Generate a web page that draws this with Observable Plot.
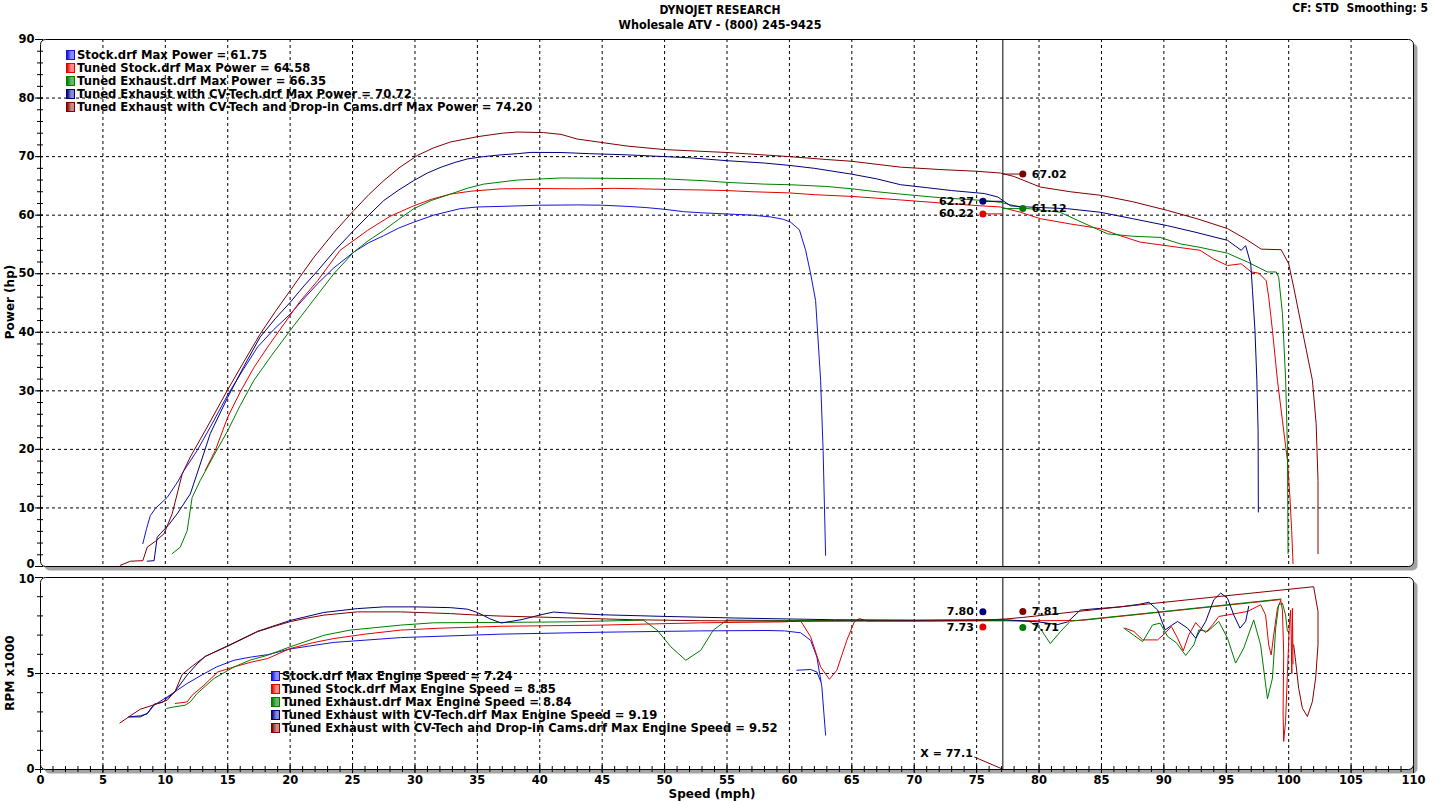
<!DOCTYPE html>
<html><head><meta charset="utf-8">
<script src="https://cdn.jsdelivr.net/npm/d3@7"></script>
<script src="https://cdn.jsdelivr.net/npm/@observablehq/plot@0.6"></script>
<style>
body{margin:0;background:#fff;}
#wrap{position:relative;width:1438px;height:801px;overflow:hidden;font-family:"DejaVu Sans",Verdana,sans-serif;color:#000;}
.hdr{position:absolute;font-family:"DejaVu Sans",sans-serif;font-stretch:condensed;font-weight:bold;font-size:12px;white-space:nowrap;line-height:14px;}
.axl{position:absolute;font-weight:bold;font-size:12px;white-space:nowrap;transform:translate(-50%,-50%);}
.axl.rot{transform:translate(-50%,-50%) rotate(-90deg);}
.lg{position:absolute;display:flex;align-items:center;height:13px;font-weight:bold;font-size:11.6px;white-space:nowrap;}
.sw{display:inline-block;width:9px;height:10px;box-sizing:border-box;border:1px solid;margin-right:2px;}
svg{position:absolute;left:0;}
</style></head>
<body><div id="wrap"></div>
<script>
// ---------------- data ----------------
const seriesNames = ["Stock.drf","Tuned Stock.drf","Tuned Exhaust.drf","Tuned Exhaust with CV-Tech.drf","Tuned Exhaust with CV-Tech and Drop-in Cams.drf"];
const seriesColors = ["#1414d8","#e60000","#007d00","#00007c","#800000"];
const swatchLight = ["#8c8cff","#ff8c8c","#66b866","#8c8cc8","#c88c8c"];
const maxPower = ["61.75","64.58","66.35","70.72","74.20"];
const maxEngineSpeed = ["7.24","8.85","8.84","9.19","9.52"];

const speedTicks = [0,5,10,15,20,25,30,35,40,45,50,55,60,65,70,75,80,85,90,95,100,105,110];
const speedGrid = [5,10,15,20,25,30,35,40,45,50,55,60,65,70,75,80,85,90,95,100,105];
const powerTicks = [0,10,20,30,40,50,60,70,80,90];
const powerGrid = [10,20,30,40,50,60,70,80];
const rpmTicks = [0,5,10];
const rpmGrid = [5];
const cursorSpeed = 77.1;

// power (hp) vs speed (mph)
const stockPower = [[8.2,3.9],[8.5,6.5],[8.8,8.7],[9.2,9.9],[10.15,11.8],[11.0,14.5],[11.5,16.4],[12.55,19.8],[13.6,23.8],[15.0,29.3],[16.2,33.5],[17.4,37.5],[18.7,40.5],[20.0,43.1],[21.0,45.5],[22.2,48.3],[23.5,51.0],[25.1,53.7],[26.3,55.3],[27.5,56.5],[28.7,57.8],[29.9,58.8],[31.5,60.0],[33.6,61.1],[35.0,61.4],[36.9,61.5],[40,61.7],[43,61.75],[45,61.7],[47,61.5],[48.5,61.3],[50,61.0],[51.5,60.6],[53,60.4],[55,60.2],[57,60.0],[58.5,59.7],[59.5,59.3],[60.1,58.8],[60.8,57.5],[61.3,54.0],[61.7,50],[62.1,45.4],[62.5,31.8],[62.7,19.8],[62.9,1.9]];
const tunedStockPower = [[13.2,16.4],[14.0,19.8],[15.0,25.5],[16.0,29.8],[17.1,34.0],[18.3,37.8],[19.5,41.4],[20.8,45.3],[22.2,48.8],[24.0,54.0],[26.2,57.4],[28.0,59.8],[29.9,61.6],[31.3,62.7],[32.85,63.6],[34.5,64.1],[36.9,64.5],[40,64.55],[43,64.5],[46,64.58],[48,64.5],[50,64.4],[53,64.3],[55,64.2],[57,64.0],[60,63.8],[62,63.5],[65,63.2],[67,62.9],[68.9,62.6],[72,62.1],[75.3,61.6],[76.9,61.4],[78.5,60.5],[80.1,59.4],[82.5,58.5],[84.9,57.7],[86.5,56.5],[88.1,55.4],[90.5,54.7],[92.9,54.0],[94.0,52.5],[95.1,51.4],[96.2,51.7],[97.0,50.3],[97.6,50.1],[98.2,48.8],[98.4,46.0],[98.7,40.3],[99.1,31.8],[99.5,24.9],[99.9,18.1],[100.1,11.8],[100.24,6.1],[100.35,0.5]];
const tunedExhaustPower = [[10.55,2.2],[11.2,3.3],[11.75,6.1],[12.15,11.8],[12.8,14.7],[13.9,19.0],[15.0,23.2],[16.0,27.5],[17.1,31.8],[18.5,36.0],[20.0,40.3],[21.8,45.3],[23.5,50.0],[25.1,53.7],[26.3,55.7],[27.5,57.4],[28.7,59.3],[29.9,61.1],[31.3,62.5],[32.85,63.6],[34.2,64.6],[35.5,65.3],[38.2,66.0],[41.7,66.35],[45,66.3],[50,66.2],[53,65.9],[55,65.6],[58,65.3],[60,65.2],[63,64.9],[65,64.5],[67,64.0],[68.9,63.6],[72,63.0],[75.6,62.5],[76.9,62.2],[78.8,61.2],[81.7,60.5],[83.1,59.1],[85.5,56.8],[87.5,56.4],[89.7,56.2],[91.3,55.1],[92.9,54.5],[95.1,53.5],[96.7,52.0],[98.3,50.3],[99.0,50.3],[99.2,49.4],[99.5,43.2],[99.76,31.8],[99.9,20.4],[99.95,2.2]];
const cvTechPower = [[8.55,0.9],[9.1,1.0],[9.35,5.0],[9.6,5.6],[10.3,7.2],[10.95,9.0],[12.0,12.4],[12.8,17.5],[13.6,22.7],[15.0,28.9],[16.3,34.2],[17.6,39.2],[18.8,42.3],[20.0,45.1],[21.1,47.9],[22.2,50.5],[23.6,54.0],[25.1,57.4],[26.3,60.0],[27.5,62.5],[28.7,64.3],[29.9,65.9],[31.0,67.2],[32.1,68.2],[33.2,69.0],[34.2,69.6],[35.5,70.0],[36.9,70.3],[38.2,70.5],[39.3,70.72],[41.7,70.7],[44,70.5],[47,70.3],[50,70.0],[52,69.8],[55,69.3],[58,68.9],[60,68.5],[62,68.0],[63.5,67.5],[65,67.0],[67,66.2],[68.9,65.2],[71,64.7],[73,64.2],[75.6,63.7],[76.7,63.1],[77.7,61.6],[79.1,61.4],[82.3,61.1],[84.9,60.5],[87.5,59.4],[90.3,58.2],[92.5,57.1],[95.1,55.7],[96.2,54.0],[96.55,54.8],[96.96,51.7],[97.1,47.1],[97.3,40.3],[97.45,31.8],[97.55,23.2],[97.57,9.3]];
const camsPower = [[6.4,0.2],[7.2,0.9],[8.2,1.0],[8.55,3.3],[9.2,4.3],[9.9,5.6],[10.55,9.0],[11.35,15.8],[12.0,18.7],[13.35,23.8],[14.96,30.05],[16.3,35.0],[17.6,39.7],[18.8,43.5],[20.0,47.1],[21.9,52.8],[23.5,57.0],[25.1,60.8],[26.3,63.5],[27.5,65.9],[28.8,68.2],[30.2,70.2],[31.5,71.5],[32.85,72.5],[35.0,73.4],[37,74.0],[38.2,74.2],[40.3,74.1],[41.7,73.8],[43,73.0],[45,72.4],[47,71.8],[50,71.2],[55,70.7],[60,70.0],[63,69.5],[65,69.2],[68.9,68.2],[72,67.8],[75,67.5],[76.9,67.2],[78.0,66.6],[80.1,64.8],[82.5,64.0],[84.9,63.4],[87.5,62.3],[90.3,60.8],[92.8,59.3],[95.1,57.7],[96.5,56.0],[97.8,54.2],[99.4,54.1],[100.0,51.7],[100.4,47.7],[101.2,39.2],[101.9,31.8],[102.2,24.4],[102.35,14.7],[102.35,2.2]];

// engine speed (RPM x1000) vs speed (mph); NaN rows break a line
const stockRpm = [[7.08,2.74],[8.0,2.8],[8.55,2.9],[9.1,3.35],[10.15,3.78],[11.0,4.15],[11.75,4.48],[13.0,4.95],[14.1,5.34],[15.5,5.69],[16.8,5.85],[18.2,5.98],[20.0,6.28],[23.5,6.62],[28.85,6.87],[36.9,7.05],[44.9,7.15],[52.9,7.22],[58.2,7.24],[59.6,7.22],[60.9,7.12],[61.7,6.73],[62.2,5.86],[62.6,4.30],[62.9,1.79],[NaN,NaN],[60.6,5.17],[61.7,5.21],[62.2,5.08],[62.5,4.6]];
const tunedStockRpm = [[10.8,3.44],[11.75,3.52],[12.15,3.87],[13.1,4.39],[14.2,5.08],[15.5,5.34],[16.8,5.58],[18.2,5.78],[20.0,6.30],[21.8,6.6],[23.5,6.82],[26,7.05],[28.85,7.26],[32,7.36],[36.9,7.46],[44.9,7.52],[52.9,7.64],[59.6,7.69],[60.9,7.74],[61.7,6.91],[62.5,5.34],[63.2,4.70],[63.8,5.17],[64.6,6.73],[65.2,7.69],[65.6,7.86],[66.2,7.74],[70,7.73],[75.5,7.74],[80,7.75],[83.3,7.76],[91.3,8.3],[99.35,8.85],[99.5,8.3],[99.6,6.0],[99.55,3.0],[99.6,1.46],[99.75,2.5],[99.9,5.0],[100.05,7.5],[100.15,8.3],[100.2,7.0],[100.25,5.0],[100.3,8.4],[100.35,5.5],[NaN,NaN],[86.9,7.36],[87.6,7.19],[88.3,6.75],[89.5,6.75],[90.1,7.10],[90.6,7.45],[91.1,6.84],[91.55,6.18],[92.0,7.01],[92.55,7.65],[92.95,7.36],[93.35,7.13],[93.9,7.53],[94.4,7.97],[96.7,8.23],[97.75,8.58],[98.15,8.05],[98.4,6.49],[98.6,5.97],[98.8,7.01],[99.1,8.40],[99.35,8.78]];
const tunedExhaustRpm = [[10.1,3.18],[10.7,3.26],[11.6,3.35],[12.0,3.52],[12.55,3.96],[13.9,4.74],[15.5,5.34],[16.8,5.7],[18.2,5.95],[20.0,6.39],[22.7,6.99],[24.8,7.26],[28.85,7.52],[31.5,7.64],[36.9,7.66],[42.2,7.69],[48.3,7.78],[49.4,7.26],[50.5,6.39],[51.7,5.69],[52.9,6.21],[53.9,7.26],[55.0,7.78],[60,7.76],[70,7.76],[75.5,7.76],[77.5,7.76],[79.2,7.72],[80.1,7.34],[80.9,6.56],[81.7,7.17],[82.5,7.72],[83.3,7.78],[91.3,8.32],[99.4,8.88],[NaN,NaN],[86.8,7.36],[88.3,6.66],[89.1,7.53],[89.7,7.62],[90.3,6.93],[91.0,6.6],[91.75,5.94],[92.4,6.49],[92.8,7.27],[93.5,7.19],[94.4,7.71],[95.1,6.84],[95.75,5.54],[96.4,6.32],[97.2,7.79],[97.75,6.49],[98.3,3.68],[98.7,4.76],[98.96,7.36],[99.2,8.58],[99.5,8.66],[99.75,8.05],[99.9,7.2]];
const cvTechRpm = [[7.08,2.74],[8.0,2.74],[8.55,2.92],[9.1,3.4],[9.8,3.5],[10.15,3.72],[10.7,4.0],[11.75,4.92],[12.55,5.5],[13.2,5.89],[14.96,6.43],[17.4,7.2],[20.0,7.76],[22.7,8.18],[25.4,8.38],[27.5,8.47],[30,8.47],[32.85,8.43],[34.2,8.35],[35.0,8.18],[36.0,7.85],[36.9,7.63],[38.5,7.80],[40.1,8.06],[41.1,8.20],[42.2,8.15],[44.9,8.06],[50.2,7.97],[55.6,7.89],[63.6,7.80],[70,7.78],[75.5,7.80],[77.3,7.80],[79.9,7.69],[81.5,7.55],[82.3,7.69],[83.3,8.30],[84.1,8.35],[86.5,8.47],[88.0,8.6],[88.8,8.71],[89.5,8.31],[90.1,7.27],[90.6,7.5],[91.1,7.71],[91.9,7.36],[92.55,6.84],[93.35,7.71],[94.0,8.84],[94.55,9.19],[95.1,8.92],[95.6,8.05],[96.1,7.36],[96.55,7.71],[96.8,8.5]];
const camsRpm = [[6.36,2.42],[7.2,2.8],[8.0,3.14],[9.1,3.37],[10.15,3.61],[10.8,4.09],[11.35,4.95],[12.15,5.38],[13.2,5.89],[14.96,6.41],[16.2,6.8],[17.4,7.18],[18.7,7.45],[20.0,7.70],[21.3,7.88],[22.7,8.04],[25.4,8.21],[28.85,8.21],[32.85,8.12],[35.0,8.04],[36.9,7.99],[42.2,7.90],[47.5,7.80],[52.9,7.75],[60.9,7.72],[70,7.74],[75,7.76],[77.3,7.84],[78.7,7.92],[86.5,8.47],[95,9.05],[102.0,9.52],[102.35,8.23],[102.35,6.49],[102.16,4.76],[101.9,3.54],[101.5,2.76],[101.1,3.19],[100.8,4.23],[100.56,5.62],[100.4,6.49]];

const powerSeries = [stockPower, tunedStockPower, tunedExhaustPower, cvTechPower, camsPower];
const rpmSeries = [stockRpm, tunedStockRpm, tunedExhaustRpm, cvTechRpm, camsRpm];

// cursor read-outs
const markerSeries = [3, 1, 4, 2];
const markerSpeed = [75.5, 75.5, 78.7, 78.7];
const markerPower = ["62.37","60.22","67.02","61.12"];
const markerRpm = ["7.80","7.73","7.81","7.71"];

// ---------------- build ----------------
const wrap = document.getElementById("wrap");
const W = 1438;
const font = "'DejaVu Sans', Verdana, sans-serif";
const svgStyle = {fontFamily: font, fontSize: "11.5px", fontWeight: "bold", color: "black", background: "transparent", overflow: "visible"};
const dash = {stroke: "black", strokeDasharray: "3,3", strokeWidth: 1};
const speedMinor = d3.range(0, 111, 1);
const markers = markerSeries.map((s, i) => ({s, speed: markerSpeed[i], power: +markerPower[i], pLabel: markerPower[i], rpm: +markerRpm[i], rLabel: markerRpm[i], left: markerSpeed[i] < cursorSpeed}));
// in the RPM panel the read-out pair at each speed is spread apart vertically
markers.forEach(m => { const mate = markers.find(o => o !== m && o.speed === m.speed); m.upper = m.rpm >= mate.rpm; });

function seriesLines(list) {
  return list.map((data, i) => Plot.line(data, {x: d => d[0], y: d => d[1], stroke: seriesColors[i], strokeWidth: 1}));
}
function frameMarks() {
  return [
    Plot.frame({fill: "#a3a3a3", stroke: "none", dx: 4, dy: 4, rx: 5}),
    Plot.frame({fill: "white", stroke: "none", rx: 5})
  ];
}
const noText = () => "";

const topPlot = Plot.plot({
  width: W, height: 572, marginTop: 39, marginBottom: 6, marginLeft: 40, marginRight: 25,
  style: svgStyle,
  x: {domain: [0, 110], axis: null},
  y: {domain: [0, 90], axis: null},
  marks: [
    ...frameMarks(),
    Plot.ruleX(speedGrid, dash),
    Plot.ruleY(powerGrid, dash),
    Plot.ruleX([cursorSpeed], {stroke: "black", strokeWidth: 1}),
    ...seriesLines(powerSeries),
    Plot.link(markers, {x1: () => cursorSpeed, x2: "speed", y1: "power", y2: "power", stroke: d => seriesColors[d.s], strokeWidth: 1}),
    Plot.dot(markers, {x: "speed", y: "power", r: 3.5, fill: d => seriesColors[d.s], stroke: "none"}),
    Plot.text(markers.filter(d => d.left), {x: "speed", y: "power", text: "pLabel", dx: -9, textAnchor: "end", fontSize: 11}),
    Plot.text(markers.filter(d => !d.left), {x: "speed", y: "power", text: "pLabel", dx: 9, textAnchor: "start", fontSize: 11}),
    Plot.frame({stroke: "black", strokeWidth: 1, rx: 5}),
    Plot.axisY({ticks: d3.range(0, 91, 2), tickSize: 6, dx: 3, tickFormat: noText, label: null}),
    Plot.axisY({ticks: powerTicks, tickSize: 8, dx: 3, tickFormat: noText, label: null}),
    Plot.axisY({ticks: powerTicks.filter(t => t > 0), tickSize: 0, tickPadding: 6, label: null}),
    Plot.axisY({ticks: powerTicks.filter(t => t === 0), tickSize: 0, tickPadding: 6, dy: -2, label: null})
  ]
});
topPlot.style.top = "0px";
wrap.appendChild(topPlot);

function leader(cx) {
  return (index, scales) => {
    const g = document.createElementNS("http://www.w3.org/2000/svg", "line");
    const x = scales.x(cx), y = scales.y(0);
    g.setAttribute("x1", x - 28); g.setAttribute("y1", y - 12);
    g.setAttribute("x2", x); g.setAttribute("y2", y);
    g.setAttribute("stroke", "#800000"); g.setAttribute("stroke-width", 1);
    return g;
  };
}

const botPlot = Plot.plot({
  width: W, height: 229, marginTop: 5, marginBottom: 32, marginLeft: 40, marginRight: 25,
  style: svgStyle,
  x: {domain: [0, 110], axis: null},
  y: {domain: [0, 10], axis: null},
  marks: [
    ...frameMarks(),
    Plot.ruleX(speedGrid, dash),
    Plot.ruleY(rpmGrid, dash),
    Plot.ruleX([cursorSpeed], {stroke: "black", strokeWidth: 1}),
    ...seriesLines(rpmSeries),
    Plot.dot(markers.filter(d => d.upper), {x: "speed", y: "rpm", dy: -8, r: 3.5, fill: d => seriesColors[d.s], stroke: "none"}),
    Plot.dot(markers.filter(d => !d.upper), {x: "speed", y: "rpm", dy: 6, r: 3.5, fill: d => seriesColors[d.s], stroke: "none"}),
    Plot.text(markers.filter(d => d.upper && d.left), {x: "speed", y: "rpm", dy: -8, dx: -9, text: "rLabel", textAnchor: "end", fontSize: 11}),
    Plot.text(markers.filter(d => !d.upper && d.left), {x: "speed", y: "rpm", dy: 6, dx: -9, text: "rLabel", textAnchor: "end", fontSize: 11}),
    Plot.text(markers.filter(d => d.upper && !d.left), {x: "speed", y: "rpm", dy: -8, dx: 9, text: "rLabel", textAnchor: "start", fontSize: 11}),
    Plot.text(markers.filter(d => !d.upper && !d.left), {x: "speed", y: "rpm", dy: 6, dx: 9, text: "rLabel", textAnchor: "start", fontSize: 11}),
    Plot.text([cursorSpeed], {x: d => d, y: () => 0, text: d => `X = ${d}`, dx: -30, dy: -16, textAnchor: "end", fontSize: 11}),
    leader(cursorSpeed),
    Plot.frame({stroke: "black", strokeWidth: 1, rx: 5}),
    Plot.axisY({ticks: d3.range(0, 11, 1), tickSize: 6, dx: 3, tickFormat: noText, label: null}),
    Plot.axisY({ticks: rpmTicks, tickSize: 8, dx: 3, tickFormat: noText, label: null}),
    Plot.axisY({ticks: rpmTicks.filter(t => t < 10), tickSize: 0, tickPadding: 6, label: null}),
    Plot.axisY({ticks: rpmTicks.filter(t => t === 10), tickSize: 0, tickPadding: 6, dy: 2, label: null}),
    Plot.axisX({ticks: speedMinor, tickSize: 6, dy: -3, tickFormat: noText, label: null}),
    Plot.axisX({ticks: speedTicks, tickSize: 8, dy: -4, tickFormat: noText, label: null}),
    Plot.axisX({ticks: speedTicks, tickSize: 0, tickPadding: 6, label: null})
  ]
});
botPlot.style.top = "572px";
wrap.appendChild(botPlot);

// ---------------- html text ----------------
function addDiv(cls, text, css) {
  const d = document.createElement("div");
  d.className = cls; d.textContent = text;
  Object.assign(d.style, css);
  wrap.appendChild(d);
  return d;
}
addDiv("hdr", "DYNOJET RESEARCH", {top: "3px", left: "720px", transform: "translateX(-50%)"});
addDiv("hdr", "Wholesale ATV - (800) 245-9425", {top: "18px", left: "720px", transform: "translateX(-50%)", fontSize: "12.5px"});
addDiv("hdr", "CF: STD  Smoothing: 5", {top: "1px", right: "10px", whiteSpace: "pre"});
addDiv("axl rot", "Power (hp)", {left: "10px", top: "302px"});
addDiv("axl rot", "RPM x1000", {left: "10px", top: "673px"});
addDiv("axl", "Speed (mph)", {left: "712px", top: "794px"});

function legend(left, top, labels) {
  labels.forEach((txt, i) => {
    const row = document.createElement("div");
    row.className = "lg";
    row.style.left = left + "px";
    row.style.top = (top + 13 * i) + "px";
    const sw = document.createElement("span");
    sw.className = "sw";
    sw.style.borderColor = seriesColors[i];
    sw.style.background = `linear-gradient(to right, ${seriesColors[i]} 0%, ${swatchLight[i]} 60%)`;
    row.appendChild(sw);
    row.appendChild(document.createTextNode(txt));
    wrap.appendChild(row);
  });
}
legend(66, 48, seriesNames.map((n, i) => `${n} Max Power = ${maxPower[i]}`));
legend(271, 669, seriesNames.map((n, i) => `${n} Max Engine Speed = ${maxEngineSpeed[i]}`));
</script>
</body></html>
